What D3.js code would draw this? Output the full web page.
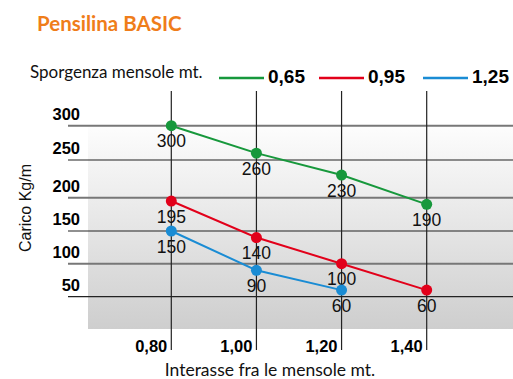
<!DOCTYPE html>
<html lang="it">
<head>
<meta charset="UTF-8">
<title>Pensilina BASIC</title>
<script src="https://d3js.org/d3.v7.min.js"></script>
<style>
  body { margin: 0; background: #fff; }
  text { font-family: "Liberation Sans", Arial, sans-serif; }
</style>
</head>
<body>
<div id="chart"></div>
<script>
// data
var interassi = ["0,80", "1,00", "1,20", "1,40"];
var yTicks = [50, 100, 150, 200, 250, 300];
var serie = ["0,65", "0,95", "1,25"];
var colori = ["#17983c", "#e2001a", "#1a8cd4"];
var carico065 = [300, 260, 230, 190];
var carico095 = [195, 140, 100, 60];
var carico125 = [150, 90, 60];

var W = 513, H = 379;
var svg = d3.select("#chart").append("svg")
  .attr("width", W).attr("height", H);

// x positions of the columns
var x = d3.scalePoint().domain(interassi).range([171.3, 426.7]);
// gridlines are not evenly spaced in the original, so piecewise scale
var y = d3.scaleLinear()
  .domain([0, 50, 100, 150, 200, 250, 300])
  .range([329, 296.7, 263.7, 231, 197.7, 160, 125.7]);

// gray gradient background
var grad = svg.append("defs").append("linearGradient")
  .attr("id", "bg").attr("x1", 0).attr("y1", 0).attr("x2", 0).attr("y2", 1);
grad.append("stop").attr("offset", "0%").attr("stop-color", "#fdfdfd");
grad.append("stop").attr("offset", "100%").attr("stop-color", "#cecece");
svg.append("rect")
  .attr("x", 88).attr("y", y(300))
  .attr("width", W - 88).attr("height", 329 - y(300))
  .attr("fill", "url(#bg)");

// horizontal gridlines, alternating gray / dark
svg.selectAll(".grid").data(yTicks).enter().append("line")
  .attr("class", "grid")
  .attr("x1", 68).attr("x2", W)
  .attr("y1", function(d) { return y(d); })
  .attr("y2", function(d) { return y(d); })
  .attr("stroke", function(d) { return (d / 50) % 2 == 0 ? "#777" : "#222"; })
  .attr("stroke-width", function(d) { return (d / 50) % 2 == 0 ? 2 : 1.2; });

// y tick labels
svg.selectAll(".ytick").data(yTicks).enter().append("text")
  .attr("class", "ytick")
  .attr("x", 80).attr("y", function(d) { return y(d) - 6; })
  .attr("text-anchor", "end")
  .style("font-size", "16.5px").style("font-weight", "bold")
  .text(function(d) { return d; });

// vertical lines
svg.selectAll(".vline").data(interassi).enter().append("line")
  .attr("class", "vline")
  .attr("x1", function(d) { return x(d); })
  .attr("x2", function(d) { return x(d); })
  .attr("y1", 91).attr("y2", 350)
  .attr("stroke", "#222").attr("stroke-width", 1.2);

// x tick labels
svg.selectAll(".xtick").data(interassi).enter().append("text")
  .attr("class", "xtick")
  .attr("x", function(d) { return x(d) - 4; }).attr("y", 352)
  .attr("text-anchor", "end")
  .style("font-size", "16.5px").style("font-weight", "bold")
  .text(function(d) { return d; });

// series
var dati = [carico065, carico095, carico125];
dati.forEach(function(vals, i) {
  var pts = vals.map(function(v, j) { return {x: interassi[j], v: v}; });
  svg.append("path")
    .datum(pts)
    .attr("fill", "none")
    .attr("stroke", colori[i]).attr("stroke-width", 2)
    .attr("d", d3.line()
      .x(function(d) { return x(d.x); })
      .y(function(d) { return y(d.v); }));
  svg.selectAll(".pt" + i).data(pts).enter().append("circle")
    .attr("cx", function(d) { return x(d.x); })
    .attr("cy", function(d) { return y(d.v); })
    .attr("r", 5.5).attr("fill", colori[i]);
  svg.selectAll(".lab" + i).data(pts).enter().append("text")
    .attr("x", function(d) { return x(d.x); })
    .attr("y", function(d) { return y(d.v) + 21.5; })
    .attr("text-anchor", "middle")
    .style("font-size", "17.5px").attr("fill", "#111")
    .text(function(d) { return d.v; });
});

// title
svg.append("text")
  .attr("x", 37).attr("y", 31)
  .style("font-family", "Lato, 'Open Sans', sans-serif")
  .style("font-size", "20.5px").style("font-weight", "bold")
  .attr("fill", "#ef7d1a")
  .text("Pensilina BASIC");

// legend
svg.append("text")
  .attr("x", 30).attr("y", 78)
  .style("font-family", "Lato, 'Open Sans', sans-serif")
  .style("font-size", "17px").attr("fill", "#111")
  .text("Sporgenza mensole mt.");

var legX = [219, 319, 423];
serie.forEach(function(s, i) {
  svg.append("line")
    .attr("x1", legX[i]).attr("x2", legX[i] + 45)
    .attr("y1", 78).attr("y2", 78)
    .attr("stroke", colori[i]).attr("stroke-width", 2.5);
  svg.append("text")
    .attr("x", legX[i] + 49).attr("y", 83)
    .style("font-size", "19px").style("font-weight", "bold")
    .text(s);
});

// axis titles
svg.append("text")
  .attr("x", 270).attr("y", 376)
  .attr("text-anchor", "middle")
  .style("font-family", "Lato, 'Open Sans', sans-serif")
  .style("font-size", "17.5px").attr("fill", "#111")
  .text("Interasse fra le mensole mt.");

svg.append("text")
  .attr("transform", "translate(31,208) rotate(-90)")
  .attr("text-anchor", "middle")
  .style("font-size", "16px").attr("fill", "#111")
  .text("Carico Kg/m");
</script>
</body>
</html>
